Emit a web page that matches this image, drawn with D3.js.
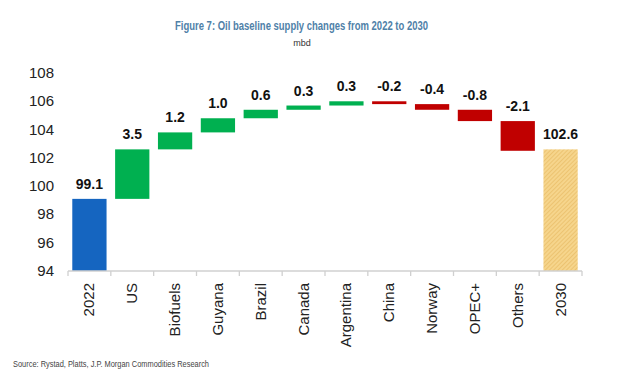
<!DOCTYPE html>
<html><head><meta charset="utf-8">
<script src="https://cdn.jsdelivr.net/npm/d3@7"></script>
<style>body{margin:0;background:#fff;}svg{display:block;}</style>
</head><body>
<svg id="c" width="621" height="379"></svg>
<script>
const categories = ["2022","US","Biofuels","Guyana","Brazil","Canada","Argentina","China","Norway","OPEC+","Others","2030"];
const values = [99.1, 3.5, 1.2, 1.0, 0.6, 0.3, 0.3, -0.2, -0.4, -0.8, -2.1, 102.6];
const kinds = ["total","delta","delta","delta","delta","delta","delta","delta","delta","delta","delta","total"];
const yTicks = [94,96,98,100,102,104,106,108];

const svg = d3.select("#c");
const W=621,H=379;
const m={left:68,right:39,top:73,bottom:108};
const x=d3.scaleBand().domain(categories).range([m.left,W-m.right]).paddingInner(0.2).paddingOuter(0.1);
const y=d3.scaleLinear().domain([94,108]).range([H-m.bottom,m.top]);

const defs=svg.append("defs");
const pat=defs.append("pattern").attr("id","hatch").attr("patternUnits","userSpaceOnUse").attr("width",3).attr("height",3).attr("patternTransform","rotate(45)");
pat.append("rect").attr("width",3).attr("height",3).attr("fill","#f6d58c");
pat.append("line").attr("x1",0).attr("y1",0).attr("x2",0).attr("y2",3).attr("stroke","#e6b85e").attr("stroke-width",1.2);

let run=0;
const bars=categories.map((c,i)=>{
  let lo,hi;
  if(kinds[i]==="total"){lo=94;hi=values[i];run=values[i];}
  else {const s=run; run=run+values[i]; lo=Math.min(s,run); hi=Math.max(s,run);}
  return {c,v:values[i],lo,hi,kind:kinds[i]};
});
function color(d,i){
  if(i===0) return "#1565c0";
  if(d.kind==="total") return "url(#hatch)";
  return d.v>=0?"#00b050":"#c00000";
}
svg.append("g").selectAll("rect").data(bars).join("rect")
  .attr("x",d=>x(d.c)).attr("width",x.bandwidth())
  .attr("y",d=>y(d.hi)).attr("height",d=>Math.max(2,y(d.lo)-y(d.hi)))
  .attr("fill",color);

svg.append("g").selectAll("text").data(bars).join("text")
  .attr("x",d=>x(d.c)+x.bandwidth()/2).attr("y",d=>y(d.hi)-10)
  .attr("text-anchor","middle").attr("font-family","Liberation Sans, Arial, sans-serif")
  .attr("font-weight","bold").attr("font-size",14).attr("fill","#111")
  .text(d=>d.v.toFixed(1));

svg.append("g").selectAll("text").data(yTicks).join("text")
  .attr("x",54).attr("y",d=>y(d)+5).attr("text-anchor","end")
  .attr("font-family","Liberation Sans, Arial, sans-serif").attr("font-size",15).attr("fill","#222")
  .text(d=>d);

const xa=svg.append("g").attr("transform",`translate(0,${y(94)})`);
xa.append("line").attr("x1",m.left).attr("x2",W-m.right).attr("stroke","#d0d0d0").attr("stroke-width",1.3);
const edges=d3.range(categories.length+1).map(i=>m.left+i*(W-m.left-m.right)/categories.length);
xa.selectAll("line.t").data(edges).join("line").attr("class","t")
  .attr("x1",d=>d).attr("x2",d=>d).attr("y1",0).attr("y2",5).attr("stroke","#d0d0d0").attr("stroke-width",1.3);
xa.selectAll("text").data(categories).join("text")
  .attr("transform",d=>`translate(${x(d)+x.bandwidth()/2+5},12) rotate(-90)`)
  .attr("text-anchor","end")
  .attr("font-family","Liberation Sans, Arial, sans-serif").attr("font-size",15).attr("fill","#222")
  .text(d=>d);

svg.append("text").attr("x",175).attr("y",30)
  .attr("font-family","Liberation Sans, Arial, sans-serif")
  .attr("font-weight","bold").attr("font-size",12.5).attr("fill","#4f81a8")
  .attr("textLength",253).attr("lengthAdjust","spacingAndGlyphs")
  .text("Figure 7: Oil baseline supply changes from 2022 to 2030");
svg.append("text").attr("x",302).attr("y",46).attr("text-anchor","middle")
  .attr("font-family","Liberation Sans, Arial, sans-serif")
  .attr("font-size",9).attr("fill","#333").text("mbd");
svg.append("text").attr("x",13).attr("y",367)
  .attr("font-family","Liberation Sans, Arial, sans-serif")
  .attr("font-size",9).attr("fill","#444")
  .attr("textLength",196).attr("lengthAdjust","spacingAndGlyphs")
  .text("Source: Rystad, Platts, J.P. Morgan Commodities Research");
</script>
</body></html>
